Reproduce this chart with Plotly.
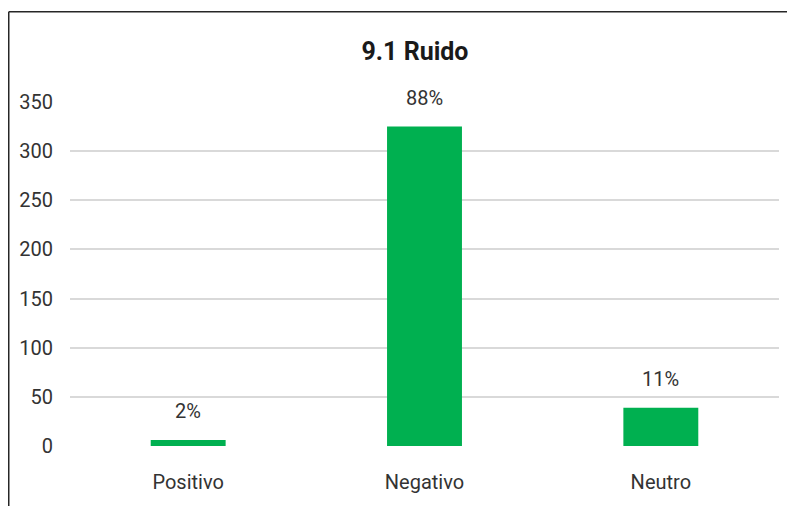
import plotly.graph_objs as go

categorias = ["Positivo", "Negativo", "Neutro"]
valores = [6, 325, 39]
etiquetas = ["2%", "88%", "11%"]

FONT = "Roboto, Liberation Sans, sans-serif"


def plot():
    f = go.Figure()
    f.add_trace(
        go.Bar(
            x=categorias,
            y=valores,
            marker=dict(color="#00B050", line=dict(width=0)),
            hoverinfo="skip",
        )
    )
    # porcentajes encima de cada barra
    for cat, val, txt in zip(categorias, valores, etiquetas):
        f.add_annotation(
            x=cat,
            y=val,
            text=txt,
            showarrow=False,
            yanchor="bottom",
            yshift=15,
            font=dict(family=FONT, size=20, color="#333333"),
        )
    # marco del gráfico (recortado como en la captura)
    frame = dict(color="#262626", width=1.5)
    f.add_shape(type="line", xref="paper", yref="paper",
                x0=-0.0864, x1=-0.0864, y0=1.262, y1=-0.3, line=frame)
    f.add_shape(type="line", xref="paper", yref="paper",
                x0=-0.0864, x1=1.05, y0=1.262, y1=1.262, line=frame)
    f.update_layout(
        width=795,
        height=506,
        margin=dict(l=62, r=24, t=94, b=68),
        paper_bgcolor="white",
        plot_bgcolor="white",
        bargap=0.683,
        showlegend=False,
        title=dict(
            text="<b>9.1 Ruido</b>",
            x=407 / 795,
            xanchor="center",
            y=1 - 43.5 / 506,
            yanchor="middle",
            font=dict(family=FONT, size=25, color="#1a1a1a"),
        ),
    )
    f.update_xaxes(
        automargin=False,
        showgrid=False,
        showline=False,
        ticks="",
        ticklabelstandoff=22,
        tickfont=dict(family=FONT, size=20, color="#333333"),
    )
    f.update_yaxes(
        automargin=False,
        range=[0, 350],
        dtick=50,
        showgrid=True,
        gridcolor="#d9d9d9",
        gridwidth=2,
        zeroline=False,
        showline=False,
        ticks="",
        ticklabelstandoff=16,
        tickfont=dict(family=FONT, size=20, color="#333333"),
    )
    f.write_html("out.html")
    return f


if __name__ == "__main__":
    plot()
